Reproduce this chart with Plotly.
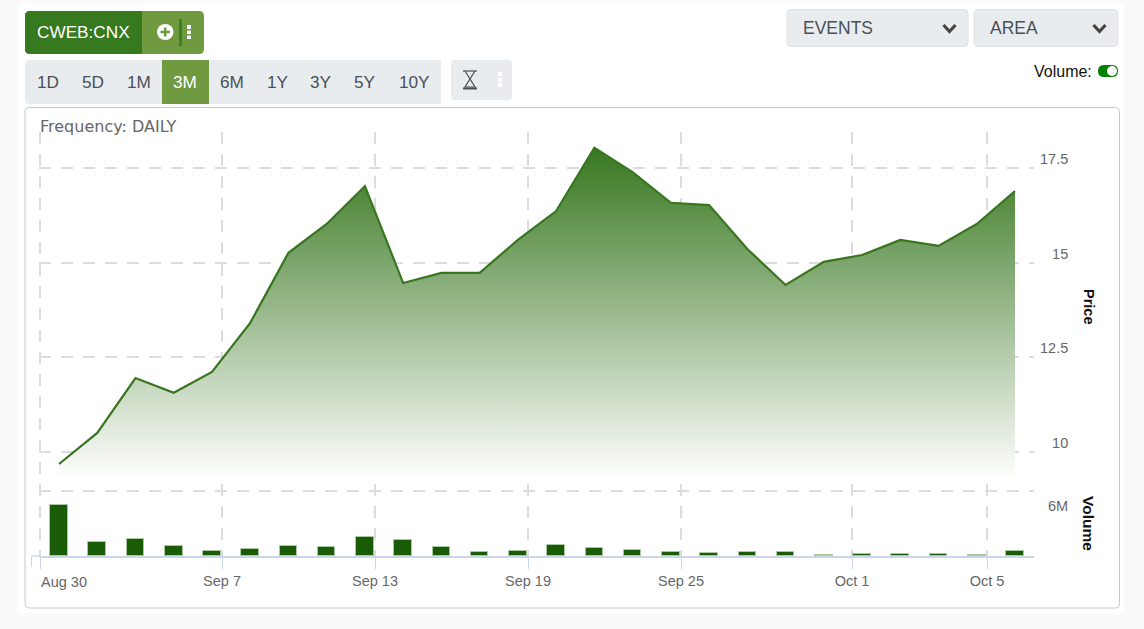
import plotly.graph_objects as go

# ---- data ----
days = list(range(26))
price = [9.68, 10.5, 11.95, 11.56, 12.11, 13.41, 15.26, 16.02, 17.02, 14.46, 14.73, 14.73, 15.6,
         16.36, 18.03, 17.39, 16.58, 16.52, 15.36, 14.41, 15.02, 15.2, 15.6, 15.44, 16.02, 16.89]
volume_m = [4.71, 1.29, 1.57, 0.92, 0.46, 0.67, 0.92, 0.80, 1.73, 1.48, 0.83, 0.37, 0.46,
            1.02, 0.74, 0.55, 0.37, 0.28, 0.37, 0.37, 0.05, 0.14, 0.23, 0.14, 0.05, 0.49]
area_floor = 9.37
x_tick_pos = [-0.49, 4.263, 8.264, 12.265, 16.266, 20.74, 24.27]
x_tick_text = ["", "Sep 7", "Sep 13", "Sep 19", "Sep 25", "Oct 1", "Oct 5"]
price_ticks = [10, 12.5, 15, 17.5]
price_tick_text = ["\u00a0\u00a0\u00a010", "12.5", "\u00a0\u00a0\u00a015", "17.5"]
vol_ticks = [6]
vol_tick_text = ["\u00a0\u00a06M"]
range_buttons = ["1D", "5D", "1M", "3M", "6M", "1Y", "3Y", "5Y", "10Y"]
range_button_x = [48, 92.5, 139, 185, 232, 278, 321, 365, 414]

# ---- page geometry (pixels) ----
W, H = 1144, 629
L, R, T, B = 39, 1034, 132, 556
FONT = "Liberation Sans, Arial, sans-serif"
DARK, LIGHT, GREY = "#37791f", "#6f9a3f", "#e9ecef"


def px(x):
    return (x - L) / (R - L)


def py(y):
    return (B - y) / (B - T)


def rrect(x0, y0, x1, y1, fill, line=None, r=(4, 4, 4, 4), width=1, layer="below"):
    tl, tr, br, bl = r
    X = lambda v: px(v)
    Y = lambda v: py(v)
    path = (f"M {X(x0 + tl)} {Y(y0)} L {X(x1 - tr)} {Y(y0)} Q {X(x1)} {Y(y0)} {X(x1)} {Y(y0 + tr)} "
            f"L {X(x1)} {Y(y1 - br)} Q {X(x1)} {Y(y1)} {X(x1 - br)} {Y(y1)} "
            f"L {X(x0 + bl)} {Y(y1)} Q {X(x0)} {Y(y1)} {X(x0)} {Y(y1 - bl)} "
            f"L {X(x0)} {Y(y0 + tl)} Q {X(x0)} {Y(y0)} {X(x0 + tl)} {Y(y0)} Z")
    return dict(type="path", path=path, xref="paper", yref="paper", fillcolor=fill, layer=layer,
                line=dict(color=line or fill, width=width if line else 0))


def poly(points, color, width=1, fill=None, closed=False, layer="above"):
    path = "M " + " L ".join(f"{px(a)} {py(b)}" for a, b in points) + (" Z" if closed else "")
    return dict(type="path", path=path, xref="paper", yref="paper", layer=layer,
                fillcolor=fill or "rgba(0,0,0,0)", line=dict(color=color, width=width))


def label(x, y, text, size=16, color="#495057", anchor="center", angle=0, bold=False, family=FONT):
    # annotations carry about 2px of internal padding
    pad = {"left": -2, "right": 2, "center": 0}[anchor]
    return dict(x=px(x + pad), y=py(y), xref="paper", yref="paper", text=f"<b>{text}</b>" if bold else text,
                showarrow=False, xanchor=anchor, yanchor="middle", textangle=angle,
                font=dict(family=family, size=size, color=color))


shapes = [
    dict(type="rect", xref="paper", yref="paper", x0=px(18), x1=px(1124), y0=py(3), y1=py(613),
         fillcolor="white", line=dict(width=0), layer="below"),
    rrect(25, 107.5, 1119.5, 608, "white", "#c9c9c9", r=(4, 4, 4, 4)),
    rrect(25, 11, 204, 54, LIGHT, r=(5, 5, 5, 5)),
    rrect(25, 11, 142, 54, DARK, r=(5, 0, 0, 5)),
    rrect(25, 60, 441, 104, GREY, r=(4, 0, 0, 4)),
    rrect(162, 60, 209, 104, LIGHT, r=(0, 0, 0, 0)),
    rrect(451, 60, 512, 100, GREY, r=(4, 4, 4, 4)),
    rrect(787, 9.5, 968, 46.5, GREY, "#dee2e6", r=(4, 4, 4, 4)),
    rrect(974, 9.5, 1118, 46.5, GREY, "#dee2e6", r=(4, 4, 4, 4)),
    rrect(1098, 65, 1118, 77, "#008000", r=(6, 6, 6, 6)),
    dict(type="circle", xref="paper", yref="paper", x0=px(1107), x1=px(1117), y0=py(66), y1=py(76),
         fillcolor="white", line=dict(width=0), layer="above"),
    # add-series icon
    dict(type="circle", xref="paper", yref="paper", x0=px(157), x1=px(173.5), y0=py(24), y1=py(40),
         fillcolor="white", line=dict(width=0), layer="above"),
    poly([(160.5, 32), (170, 32)], LIGHT, 2.5),
    poly([(165.2, 27.5), (165.2, 36.5)], LIGHT, 2.5),
    poly([(180.5, 19), (180.5, 46)], DARK, 2.5),
    # menu dots
    poly([(189, 25), (189, 29)], "white", 4),
    poly([(189, 30.5), (189, 34)], "white", 4),
    poly([(189, 35.5), (189, 39)], "white", 4),
    poly([(500, 72), (500, 76)], "white", 4),
    poly([(500, 78), (500, 81.5)], "white", 4),
    poly([(500, 83), (500, 87)], "white", 4),
    # hourglass
    poly([(463, 71), (477, 71)], "#495057", 1.2),
    poly([(463, 88.5), (477, 88.5)], "#495057", 2),
    poly([(465, 71), (475, 87), (465, 87), (475, 71)], "#495057", 1.2),
    # chevrons
    poly([(943.5, 25), (949.5, 31.5), (955.5, 25)], "#444444", 3.2),
    poly([(1093.5, 25), (1099.5, 31.5), (1105.5, 25)], "#444444", 3.2),
    # first x-axis tick sits left of the plot
    poly([(31.5, 556), (39, 556)], "#ccd6eb", 1.5),
    poly([(31.5, 556), (31.5, 567)], "#ccd6eb", 1),
]

annotations = [
    label(37, 32.5, "CWEB:CNX", 17.2, "white", "left"),
    label(40, 127, "Frequency: DAILY", 16, "#666666", "left", family="DejaVu Sans"),
    label(803, 28, "EVENTS", 17.5, "#495057", "left"),
    label(990, 28, "AREA", 17.5, "#495057", "left"),
    label(1092, 71, "Volume:", 16, "#111111", "right"),
    label(1089, 306, "Price", 14.5, "#111111", angle=90, bold=True),
    label(1089, 523, "Volume", 15.5, "#111111", angle=90, bold=True),
    dict(x=days[0], xref="x", y=0, yref="paper", text="Aug 30", showarrow=False, xshift=5, yshift=-26,
         xanchor="center", yanchor="middle", font=dict(family=FONT, size=14.5, color="#666666")),
]
for name, xc in zip(range_buttons, range_button_x):
    annotations.append(label(xc, 81.5, name, 17.2, "white" if name == "3M" else "#495057"))

fig = go.Figure()
fig.add_trace(go.Scatter(x=days, y=[area_floor] * len(days), mode="lines", line=dict(width=0),
                         hoverinfo="skip", showlegend=False))
fig.add_trace(go.Scatter(x=days, y=price, mode="lines", fill="tonexty", name="Price",
                         line=dict(color="#38751f", width=2.2), showlegend=False,
                         fillgradient=dict(type="vertical",
                                           colorscale=[[0, "#fdfdfc"], [1, "#37771f"]])))
fig.add_trace(go.Bar(x=days, y=volume_m, yaxis="y2", name="Volume", width=0.46, showlegend=False,
                     marker=dict(color="#1a5c05", line=dict(color="#a9c9a0", width=1))))

grid = dict(showgrid=True, gridcolor="#dcdcdc", gridwidth=1.6, griddash="12px,10px", zeroline=False)
fig.update_layout(
    width=W, height=H, autosize=False,
    margin=dict(l=L, r=W - R, t=T, b=H - B, pad=0),
    paper_bgcolor="#fafafa", plot_bgcolor="rgba(0,0,0,0)",
    font=dict(family=FONT, size=14, color="#666666"),
    shapes=shapes, annotations=annotations, bargap=0,
    xaxis=dict(range=[-0.5236, 25.497], tickmode="array", tickvals=x_tick_pos, ticktext=x_tick_text,
               ticks="outside", ticklen=11, tickcolor="#ccd6eb", tickwidth=1,
               showline=True, linecolor="#ccd6eb", linewidth=2,
               tickfont=dict(family=FONT, size=14.5, color="#666666"), **grid),
    yaxis=dict(range=[7.25, 18.45], side="right", tickmode="array", tickvals=price_ticks,
               ticktext=price_tick_text, ticklabelshift=-9, ticklabelstandoff=5,
               tickfont=dict(family=FONT, size=14.5, color="#666666"), **grid),
    yaxis2=dict(range=[0, 39.1], overlaying="y", side="right", tickmode="array", tickvals=vol_ticks,
                ticktext=vol_tick_text, ticklabelshift=15, ticklabelstandoff=5,
                tickfont=dict(family=FONT, size=14.5, color="#666666"), **grid),
)

fig.write_html("out.html", config=dict(displayModeBar=False),
               post_script="document.body.style.margin='0';document.body.style.background='#fafafa';")
